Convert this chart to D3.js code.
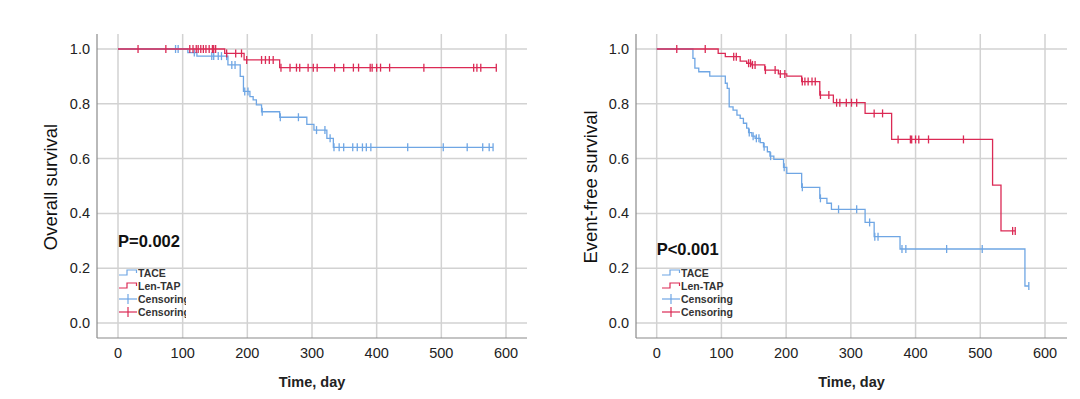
<!DOCTYPE html>
<html>
<head>
<meta charset="utf-8">
<script src="https://cdn.jsdelivr.net/npm/d3@7"></script>
<style>
  body { margin: 0; background: #fff; }
  text { font-family: "Liberation Sans", Arial, sans-serif; }
</style>
</head>
<body>
<div id="chart"></div>
<script>
// ---- data (time in days, survival proportion) ----
var xTicks = [0, 100, 200, 300, 400, 500, 600];
var yTicks = [0.0, 0.2, 0.4, 0.6, 0.8, 1.0];
var legendLabels = ["TACE", "Len-TAP", "Censoring", "Censoring"];

// overall survival
var osTaceSteps = [[108, 0.987], [122, 0.974], [170, 0.942], [189, 0.90], [194, 0.845], [204, 0.826],
  [209, 0.814], [214, 0.796], [222, 0.771], [250, 0.751], [292, 0.725], [303, 0.704], [323, 0.674], [333, 0.641]];
var osTaceCensor = [89, 93, 118, 145, 148, 155, 160, 168, 176, 181, 196, 201, 223, 251, 279, 307, 320, 328,
  334, 342, 349, 363, 370, 378, 384, 391, 448, 503, 540, 564, 574, 580];
var osLenSteps = [[165, 0.984], [195, 0.96], [250, 0.932]];
var osLenCensor = [31, 74, 111, 116, 121, 124, 128, 132, 136, 141, 146, 148, 151, 168, 182, 191, 199,
  222, 228, 234, 240, 252, 266, 276, 281, 294, 302, 308, 335, 349, 364, 372, 390, 393, 400, 406, 420,
  473, 550, 555, 561, 585];

// event-free survival
var efsTaceSteps = [[56, 0.966], [59, 0.93], [65, 0.917], [82, 0.901], [106, 0.875], [109, 0.856],
  [112, 0.789], [118, 0.777], [124, 0.759], [129, 0.747], [134, 0.729], [139, 0.711], [142, 0.695],
  [147, 0.682], [152, 0.674], [160, 0.658], [165, 0.643], [171, 0.625], [175, 0.609], [181, 0.597],
  [196, 0.568], [201, 0.546], [224, 0.495], [252, 0.455], [263, 0.437], [270, 0.415], [322, 0.367],
  [336, 0.315], [376, 0.27], [569, 0.135]];
var efsTaceCensor = [143, 149, 154, 158, 166, 176, 197, 225, 253, 281, 309, 329, 337, 342, 379, 385,
  448, 503, 575];
var efsLenSteps = [[95, 0.984], [106, 0.972], [129, 0.956], [139, 0.948], [146, 0.942], [167, 0.923],
  [188, 0.909], [201, 0.901], [224, 0.881], [252, 0.832], [273, 0.804], [322, 0.765], [363, 0.67],
  [519, 0.503], [532, 0.336]];
var efsLenCensor = [31, 75, 119, 123, 142, 145, 148, 152, 168, 183, 191, 198, 225, 229, 234, 240, 245,
  253, 266, 278, 283, 293, 301, 309, 336, 349, 373, 392, 394, 400, 405, 420, 474, 550, 554];

var blue = "#6fa6e4", red = "#db2a55";

var svg = d3.select("#chart").append("svg")
  .attr("width", 1080).attr("height", 399);

function survAt(steps, t) {
  var s = 1;
  steps.forEach(function (d) { if (d[0] <= t) s = d[1]; });
  return s;
}

function drawPanel(p) {
  var g = svg.append("g");
  var x = d3.scaleLinear().domain([0, 600]).range([p.x0, p.x600]);
  var y = d3.scaleLinear().domain([0, 1]).range([323, 49]);

  // grid
  g.selectAll(".vg").data(xTicks).enter().append("line")
    .attr("x1", function (d) { return x(d); }).attr("x2", function (d) { return x(d); })
    .attr("y1", 34).attr("y2", 338)
    .attr("stroke", "#d2d2d2").attr("stroke-width", 1.5);
  g.selectAll(".hg").data(yTicks).enter().append("line")
    .attr("x1", p.axisX).attr("x2", p.right)
    .attr("y1", function (d) { return y(d); }).attr("y2", function (d) { return y(d); })
    .attr("stroke", "#d2d2d2").attr("stroke-width", 1.5);

  // axes
  g.append("line").attr("x1", p.axisX).attr("x2", p.axisX).attr("y1", 34).attr("y2", 338)
    .attr("stroke", "#8a8a8a").attr("stroke-width", 1.2);
  g.append("line").attr("x1", p.axisX).attr("x2", p.right).attr("y1", 338).attr("y2", 338)
    .attr("stroke", "#8a8a8a").attr("stroke-width", 1.2);

  g.selectAll(".xl").data(xTicks).enter().append("text")
    .attr("x", function (d) { return x(d); }).attr("y", 358)
    .attr("text-anchor", "middle").attr("font-size", 14.5).attr("fill", "#222")
    .text(function (d) { return d; });
  g.selectAll(".yl").data(yTicks).enter().append("text")
    .attr("x", p.axisX - 7).attr("y", function (d) { return y(d) + 5; })
    .attr("text-anchor", "end").attr("font-size", 14.5).attr("fill", "#222")
    .text(function (d) { return d3.format(".1f")(d); });

  g.append("text").attr("x", (p.axisX + p.right) / 2).attr("y", 387)
    .attr("text-anchor", "middle").attr("font-size", 14.5).attr("font-weight", "bold").attr("fill", "#222")
    .text("Time, day");
  g.append("text")
    .attr("transform", "translate(" + p.titleX + ",187) rotate(-90)")
    .attr("text-anchor", "middle").attr("font-size", 18.5).attr("fill", "#111")
    .text(p.title);

  // curves
  var line = d3.line().x(function (d) { return x(d[0]); }).y(function (d) { return y(d[1]); })
    .curve(d3.curveStepAfter);
  p.series.forEach(function (s) {
    var end = Math.max(d3.max(s.censor), s.steps[s.steps.length - 1][0]);
    var pts = [[0, 1]].concat(s.steps).concat([[end, s.steps[s.steps.length - 1][1]]]);
    g.append("path").attr("d", line(pts)).attr("fill", "none")
      .attr("stroke", s.color).attr("stroke-width", 1.3);
    g.selectAll(null).data(s.censor).enter().append("line")
      .attr("x1", function (d) { return x(d); }).attr("x2", function (d) { return x(d); })
      .attr("y1", function (d) { return y(survAt(s.steps, d)) - 4; })
      .attr("y2", function (d) { return y(survAt(s.steps, d)) + 4; })
      .attr("stroke", s.color).attr("stroke-width", 1.3);
  });

  // p-value
  g.append("text").attr("x", p.x0).attr("y", p.pY)
    .attr("font-size", 16.5).attr("font-weight", "bold").attr("fill", "#111")
    .text(p.pText);

  // legend
  var lx = p.legX;
  var clipId = "clip" + p.id;
  g.append("clipPath").attr("id", clipId).append("rect")
    .attr("x", lx).attr("y", 260).attr("width", p.legW).attr("height", 70);
  var colors = [blue, red, blue, red];
  legendLabels.forEach(function (lab, i) {
    var cy = 273 + i * 13;
    if (i < 2) {
      g.append("path")
        .attr("d", "M" + lx + "," + (cy + 2) + "h8v-5h9.5v3")
        .attr("fill", "none").attr("stroke", colors[i]).attr("stroke-width", 1.2);
    } else {
      g.append("line").attr("x1", lx).attr("x2", lx + 18).attr("y1", cy).attr("y2", cy)
        .attr("stroke", colors[i]).attr("stroke-width", 1.2);
      g.append("line").attr("x1", lx + 9).attr("x2", lx + 9).attr("y1", cy - 5).attr("y2", cy + 5)
        .attr("stroke", colors[i]).attr("stroke-width", 1.2);
    }
    g.append("text").attr("x", lx + 19).attr("y", cy + 4)
      .attr("clip-path", "url(#" + clipId + ")")
      .attr("font-size", 10.5).attr("font-weight", "bold").attr("fill", "#333")
      .text(lab);
  });
}

drawPanel({
  id: 1, axisX: 97, x0: 118, x600: 506, right: 527, titleX: 57,
  title: "Overall survival", pText: "P=0.002", pY: 247, legX: 119, legW: 67,
  series: [
    { steps: osTaceSteps, censor: osTaceCensor, color: blue },
    { steps: osLenSteps, censor: osLenCensor, color: red }
  ]
});

drawPanel({
  id: 2, axisX: 636, x0: 656.7, x600: 1045, right: 1067, titleX: 597,
  title: "Event-free survival", pText: "P<0.001", pY: 255, legX: 662, legW: 120,
  series: [
    { steps: efsTaceSteps, censor: efsTaceCensor, color: blue },
    { steps: efsLenSteps, censor: efsLenCensor, color: red }
  ]
});
</script>
</body>
</html>
